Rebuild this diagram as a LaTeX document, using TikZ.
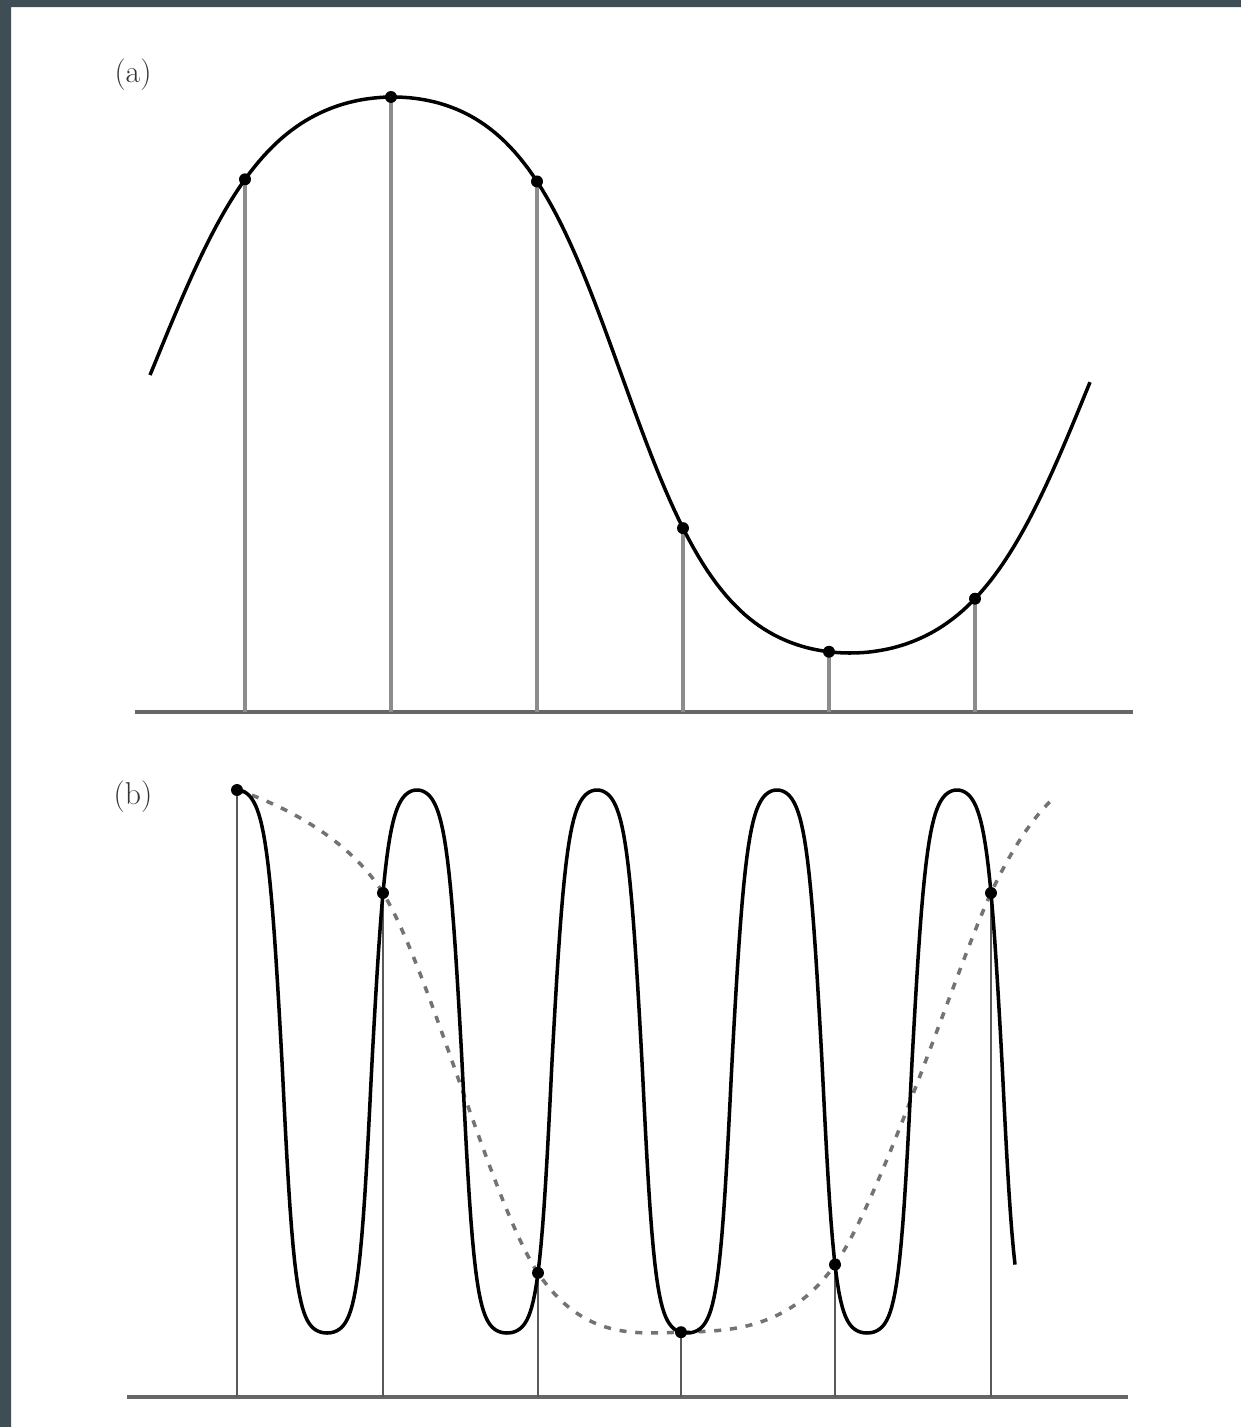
\documentclass[tikz,border=0pt]{standalone}
\definecolor{khung}{RGB}{62,78,84}
\begin{document}
\begin{tikzpicture}[x=0.02cm, y=-0.02cm,
    declare function={
        pu(\x)=(\x-621.5)/100;
        pa(\x)=90+39.76*pu(\x)-0.0711*pu(\x)*pu(\x)*pu(\x);
        fa(\x)=375-278*tanh(1.2*cos(pa(\x)))/tanh(1.2);
        hb(\c)=(\c<0) ? tanh(2.1*\c)/tanh(2.1) : tanh(1.8*\c)/tanh(1.8);
        fb(\x)=1061.5-271.5*hb(cos((\x-237)/180*360));
    },
    curve/.style={line width=2pt, black},
    stemA/.style={line width=2.2pt, black!45},
    stemB/.style={line width=1.6pt, black!65},
    axis/.style={line width=2.5pt, black!60},
    alias/.style={line width=2pt, black!55, dash pattern=on 4pt off 5pt},
    lbl/.style={font=\fontsize{18}{20}\selectfont, text=black!80}]
    % Nền trắng và viền tối của ảnh chụp
    \useasboundingbox (0,0) rectangle (1241,1427);
    \fill[white] (0,0) rectangle (1241,1427);
    \fill[khung] (0,0) rectangle (1241,7) (0,0) rectangle (11,1427);

    % Hình (a): trục ngang và các điểm lấy mẫu
    \node[lbl] (labA) at (133,75) {(a)};
    \coordinate (aL) at (135,712);
    \coordinate (aR) at (1133,712);
    \draw[axis] (aL) -- (aR);
    \path (245,{fa(245)}) coordinate (a1) (391,{fa(391)}) coordinate (a2)
          (537,{fa(537)}) coordinate (a3) (683,{fa(683)}) coordinate (a4)
          (829,{fa(829)}) coordinate (a5) (975,{fa(975)}) coordinate (a6);
    \draw[stemA] (a1) -- (a1 |- aL) (a2) -- (a2 |- aL) (a3) -- (a3 |- aL)
                 (a4) -- (a4 |- aL) (a5) -- (a5 |- aL) (a6) -- (a6 |- aL);
    \draw[curve, samples=200, domain=150:1090] plot (\x, {fa(\x)});
    \fill (a1) circle[radius=3.4pt] (a2) circle[radius=3.4pt] (a3) circle[radius=3.4pt]
          (a4) circle[radius=3.4pt] (a5) circle[radius=3.4pt] (a6) circle[radius=3.4pt];

    % Hình (b): sóng tần số cao và đường nét đứt (alias) qua các mẫu
    \node[lbl] (labB) at (133,797) {(b)};
    \coordinate (bL) at (127,1397);
    \coordinate (bR) at (1128,1397);
    \coordinate (bE) at (1052,800);
    \draw[axis] (bL) -- (bR);
    \path (237,{fb(237)}) coordinate (b1) (383,{fb(383)}) coordinate (b2)
          (538,{fb(538)}) coordinate (b3) (681,{fb(681)}) coordinate (b4)
          (835,{fb(835)}) coordinate (b5) (991,{fb(991)}) coordinate (b6);
    \draw[stemB] (b1) -- (b1 |- bL) (b2) -- (b2 |- bL) (b3) -- (b3 |- bL)
                 (b4) -- (b4 |- bL) (b5) -- (b5 |- bL) (b6) -- (b6 |- bL);
    \draw[alias] plot[smooth, tension=0.55] coordinates {(b1) (b2) (b3) (b4) (b5) (b6) (bE)};
    \draw[curve, samples=500, domain=237:1015] plot (\x, {fb(\x)});
    \fill (b1) circle[radius=3.4pt] (b2) circle[radius=3.4pt] (b3) circle[radius=3.4pt]
          (b4) circle[radius=3.4pt] (b5) circle[radius=3.4pt] (b6) circle[radius=3.4pt];
\end{tikzpicture}
\end{document}
